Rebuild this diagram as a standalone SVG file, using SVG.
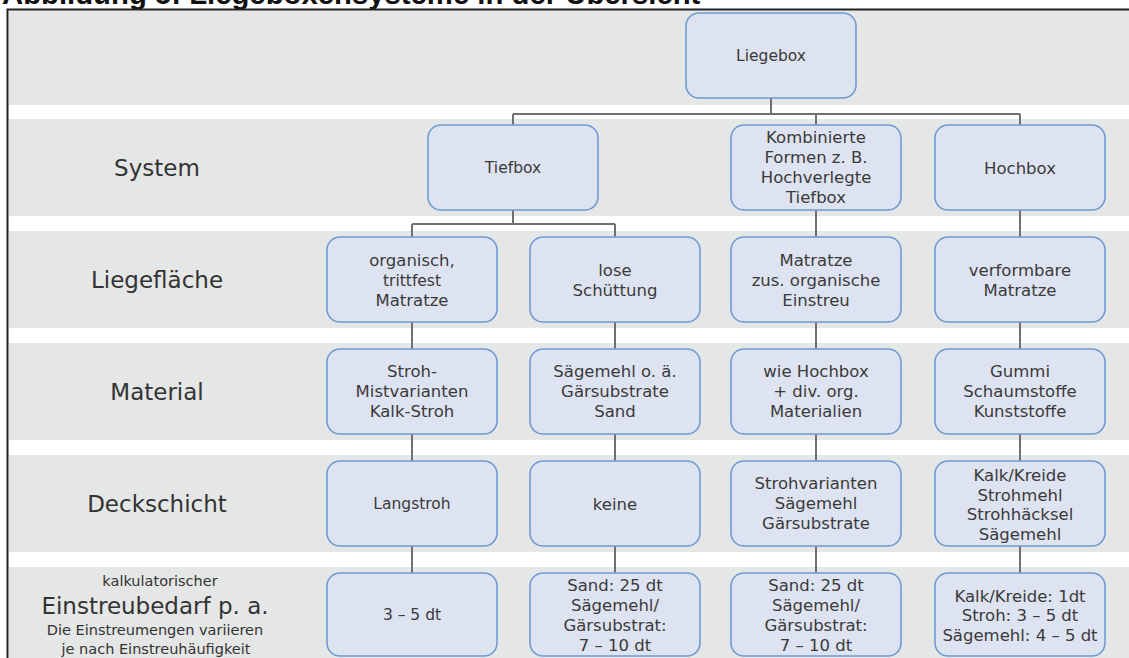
<svg xmlns="http://www.w3.org/2000/svg" width="1129" height="658" viewBox="0 0 1129 658">
<style>
.band{fill:#e5e6e6}
.box{fill:#dee3f1;stroke:#6e9bd4;stroke-width:1.6}
.conn{stroke:#707070;stroke-width:2;fill:none}
.t{font-family:"DejaVu Sans",Verdana,sans-serif;fill:#3a3a3a;text-anchor:middle;font-size:16.5px}
.s{font-size:15.5px}
.lab{font-family:"DejaVu Sans",Verdana,sans-serif;fill:#333;text-anchor:middle;font-size:23px}
.lab-s{font-size:14.5px}
.title{font-family:"Liberation Sans",Arial,sans-serif;font-weight:bold;font-size:29.3px;fill:#111}
</style>
<rect width="1129" height="658" fill="#fff"/>
<text class="title" x="2" y="4">Abbildung 5: Liegeboxensysteme in der Übersicht</text>
<g id="bands">
<rect class="band" x="9" y="10" width="1120" height="95"/>
<rect class="band" x="9" y="119" width="1120" height="97"/>
<rect class="band" x="9" y="231" width="1120" height="97"/>
<rect class="band" x="9" y="343" width="1120" height="97"/>
<rect class="band" x="9" y="455" width="1120" height="97"/>
<rect class="band" x="9" y="567" width="1120" height="91"/>
</g>
<path d="M7.5 658 V9.5 H1129" stroke="#222" stroke-width="2" fill="none"/>
<g id="labels">
<text class="lab" x="157" y="176">System</text>
<text class="lab" x="157" y="288">Liegefläche</text>
<text class="lab" x="157" y="400">Material</text>
<text class="lab" x="157" y="512">Deckschicht</text>
<text class="lab lab-s" x="160" y="586">kalkulatorischer</text>
<text class="lab" x="155" y="614">Einstreubedarf p. a.</text>
<text class="lab lab-s" x="155" y="635">Die Einstreumengen variieren</text>
<text class="lab lab-s" x="156" y="654">je nach Einstreuhäufigkeit</text>
</g>
<g id="connectors">
<path class="conn" d="M771 98 V114 M513 114 H1020 M513 114 V125 M816 114 V125 M1020 114 V125"/>
<path class="conn" d="M513 210 V224 M412 224 H615 M412 224 V237 M615 224 V237 M816 210 V237 M1020 210 V237"/>
<path class="conn" d="M412 322 V349 M615 322 V349 M816 322 V349 M1020 322 V349"/>
<path class="conn" d="M412 434 V461 M615 434 V461 M816 434 V461 M1020 434 V461"/>
<path class="conn" d="M412 546 V573 M615 546 V573 M816 546 V573 M1020 546 V573"/>
</g>
<g id="n-liegebox"><rect class="box" x="686" y="13" width="170" height="85" rx="13"/><text class="t s" x="771" y="61">Liegebox</text></g>
<g id="n-tiefbox"><rect class="box" x="428" y="125" width="170" height="85" rx="13"/><text class="t s" x="513" y="173">Tiefbox</text></g>
<g id="n-kombi"><rect class="box" x="731" y="125" width="170" height="85" rx="13"/><text class="t" x="816" y="143">Kombinierte</text><text class="t" x="816" y="163">Formen z. B.</text><text class="t" x="816" y="183">Hochverlegte</text><text class="t" x="816" y="203">Tiefbox</text></g>
<g id="n-hochbox"><rect class="box" x="935" y="125" width="170" height="85" rx="13"/><text class="t" x="1020" y="173.5">Hochbox</text></g>
<g id="n-lf-a"><rect class="box" x="327" y="237" width="170" height="85" rx="13"/><text class="t" x="412" y="266">organisch,</text><text class="t s" x="412" y="286">trittfest</text><text class="t" x="412" y="306">Matratze</text></g>
<g id="n-lf-b"><rect class="box" x="530" y="237" width="170" height="85" rx="13"/><text class="t" x="615" y="275.5">lose</text><text class="t" x="615" y="295.5">Schüttung</text></g>
<g id="n-lf-c"><rect class="box" x="731" y="237" width="170" height="85" rx="13"/><text class="t" x="816" y="266">Matratze</text><text class="t" x="816" y="286">zus. organische</text><text class="t" x="816" y="306">Einstreu</text></g>
<g id="n-lf-d"><rect class="box" x="935" y="237" width="170" height="85" rx="13"/><text class="t" x="1020" y="275.5">verformbare</text><text class="t" x="1020" y="295.5">Matratze</text></g>
<g id="n-m-a"><rect class="box" x="327" y="349" width="170" height="85" rx="13"/><text class="t" x="412" y="377">Stroh-</text><text class="t" x="412" y="397">Mistvarianten</text><text class="t" x="412" y="417">Kalk-Stroh</text></g>
<g id="n-m-b"><rect class="box" x="530" y="349" width="170" height="85" rx="13"/><text class="t" x="615" y="377">Sägemehl o. ä.</text><text class="t" x="615" y="397">Gärsubstrate</text><text class="t" x="615" y="417">Sand</text></g>
<g id="n-m-c"><rect class="box" x="731" y="349" width="170" height="85" rx="13"/><text class="t" x="816" y="377">wie Hochbox</text><text class="t" x="816" y="397">+ div. org.</text><text class="t" x="816" y="417">Materialien</text></g>
<g id="n-m-d"><rect class="box" x="935" y="349" width="170" height="85" rx="13"/><text class="t" x="1020" y="377">Gummi</text><text class="t" x="1020" y="397">Schaumstoffe</text><text class="t" x="1020" y="417">Kunststoffe</text></g>
<g id="n-d-a"><rect class="box" x="327" y="461" width="170" height="85" rx="13"/><text class="t s" x="412" y="509">Langstroh</text></g>
<g id="n-d-b"><rect class="box" x="530" y="461" width="170" height="85" rx="13"/><text class="t" x="615" y="509.5">keine</text></g>
<g id="n-d-c"><rect class="box" x="731" y="461" width="170" height="85" rx="13"/><text class="t" x="816" y="489">Strohvarianten</text><text class="t" x="816" y="509">Sägemehl</text><text class="t" x="816" y="529">Gärsubstrate</text></g>
<g id="n-d-d"><rect class="box" x="935" y="461" width="170" height="85" rx="13"/><text class="t" x="1020" y="481">Kalk/Kreide</text><text class="t" x="1020" y="500.5">Strohmehl</text><text class="t" x="1020" y="520">Strohhäcksel</text><text class="t" x="1020" y="539.5">Sägemehl</text></g>
<g id="n-e-a"><rect class="box" x="327" y="573" width="170" height="83" rx="13"/><text class="t s" x="412" y="620">3 – 5 dt</text></g>
<g id="n-e-b"><rect class="box" x="530" y="573" width="170" height="83" rx="13"/><text class="t" x="615" y="591">Sand: 25 dt</text><text class="t" x="615" y="611">Sägemehl/</text><text class="t" x="615" y="631">Gärsubstrat:</text><text class="t" x="615" y="651">7 – 10 dt</text></g>
<g id="n-e-c"><rect class="box" x="731" y="573" width="170" height="83" rx="13"/><text class="t" x="816" y="591">Sand: 25 dt</text><text class="t" x="816" y="611">Sägemehl/</text><text class="t" x="816" y="631">Gärsubstrat:</text><text class="t" x="816" y="651">7 – 10 dt</text></g>
<g id="n-e-d"><rect class="box" x="935" y="573" width="170" height="83" rx="13"/><text class="t" x="1020" y="601.5">Kalk/Kreide: 1dt</text><text class="t" x="1020" y="621">Stroh: 3 – 5 dt</text><text class="t" x="1020" y="641">Sägemehl: 4 – 5 dt</text></g>
</svg>
